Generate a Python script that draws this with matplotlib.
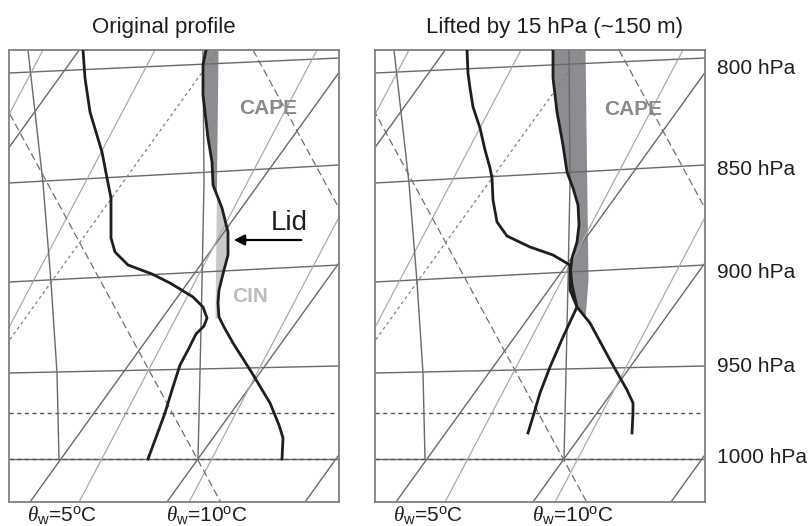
import numpy as np
import matplotlib.pyplot as plt

plt.rcParams['font.family'] = ['Liberation Sans', 'DejaVu Sans']
plt.rcParams['mathtext.fontset'] = 'custom'
plt.rcParams['mathtext.rm'] = 'Liberation Sans'
plt.rcParams['mathtext.it'] = 'Liberation Serif:italic'

# diagram units: x across the box, y downwards from its top edge
PANEL_W, PANEL_H = 330, 452

# isobars (height at the left and right edge of the box)
isobar_hpa = [800, 850, 900, 950, 1000]
isobar_y_left = [23, 133, 232, 323, 409]
isobar_y_right = [8, 115, 215, 316, 409]
isobar_label_y = [24, 125, 228, 322, 413]
level_dotted_y = [363, 409]

# dry adiabats: x where each meets the bottom edge
dry_slope = 1.39
dry_x_bottom = [-255, 21, 158, 296]
dry_dotted_x_bottom = [-116]
# steeper thin lines: x where each meets the top edge
thin_slope = 1.9
thin_x_top = [34, 146, 308, 418]
# saturated adiabats (dashed, falling to the right): x at the top edge
sat_slope = 1.84
sat_x_top = [-34, 244]
# theta-w curves, ending on the 1000 hPa isobar
thw_y = [0, 133, 232, 323, 409]
thw5_x = [19, 34, 42, 48, 50]
thw10_x = [194, 195, 193, 191, 189]
thw_labels = [r'$\theta_{\mathrm{w}}$=5$^{\mathrm{o}}$C', r'$\theta_{\mathrm{w}}$=10$^{\mathrm{o}}$C']
thw_label_x = [53, 198]

# original sounding
dew0_x = [74, 76, 81, 93, 98, 102, 102, 106, 119, 143, 161, 184, 194, 198, 195, 187, 179, 171, 163, 156, 139]
dew0_y = [0, 28, 62, 102, 128, 148, 188, 202, 215, 224, 233, 247, 257, 268, 276, 284, 300, 315, 340, 363, 409]
temp0_x = [197, 194, 194, 199, 203, 204, 213, 219, 219, 215, 210, 209, 210, 215, 224, 243, 261, 270, 274, 273]
temp0_y = [0, 15, 45, 88, 112, 135, 158, 182, 205, 220, 240, 253, 267, 277, 293, 323, 353, 375, 388, 409]
parcel0_x = [209, 206]
parcel0_y = [0, 268]

# sounding after lifting by 15 hPa
dew1_x = [92, 93, 95, 98, 105, 110, 115, 117, 118, 122, 132, 155, 178, 195, 197, 202, 188, 175, 165, 160, 153]
dew1_y = [0, 23, 38, 57, 78, 100, 118, 128, 150, 172, 186, 197, 205, 215, 235, 257, 287, 317, 343, 360, 383]
temp1_x = [178, 178, 182, 188, 192, 198, 203, 204, 202, 197, 195, 195, 202, 215, 235, 252, 258, 258, 257]
temp1_y = [0, 28, 62, 95, 122, 138, 155, 175, 192, 208, 225, 240, 257, 273, 310, 340, 353, 363, 383]
parcel1_x = [210, 213, 210]
parcel1_y = [0, 230, 268]

cape_color = '#8c8c91'
cin_color = '#c9c9cd'
grid_dark = '#6a6a6a'
grid_light = '#ababab'
ink = '#1e1e1e'


def draw_background(ax):
    for yl, yr in zip(isobar_y_left, isobar_y_right):
        ax.plot([0, PANEL_W], [yl, yr], color=grid_dark, lw=1.0, zorder=2)
    for y in level_dotted_y:
        ax.plot([0, PANEL_W], [y, y], color='#555555', lw=1.0, ls=(0, (3, 2.5)), zorder=2)
    for x0 in dry_x_bottom:
        ax.plot([x0, x0 + PANEL_H / dry_slope], [PANEL_H, 0], color=grid_dark, lw=1.0, zorder=2)
    for x0 in dry_dotted_x_bottom:
        ax.plot([x0, x0 + PANEL_H / dry_slope], [PANEL_H, 0], color='#808080', lw=0.9,
                ls=(0, (2.5, 2.5)), zorder=2)
    for xt in thin_x_top:
        ax.plot([xt, xt - PANEL_H / thin_slope], [0, PANEL_H], color=grid_light, lw=0.9, zorder=2)
    for xt in sat_x_top:
        ax.plot([xt, xt + PANEL_H / sat_slope], [0, PANEL_H], color='#707070', lw=0.9,
                ls=(0, (6, 3)), zorder=2)
    for xs in (thw5_x, thw10_x):
        ax.plot(xs, thw_y, color=grid_dark, lw=1.0, zorder=2)
    for label, x in zip(thw_labels, thw_label_x):
        ax.text(x, 471, label, ha='center', va='baseline', fontsize=15, color=ink, clip_on=False)


def shade(ax, env_x, env_y, par_x, par_y, y_end, with_cin=True):
    yy = np.linspace(0, y_end, 400)
    te = np.interp(yy, env_y, env_x)
    tp = np.interp(yy, par_y, par_x)
    ax.fill_betweenx(yy, te, tp, where=te <= tp, interpolate=True,
                     color=cape_color, lw=0, zorder=1)
    if with_cin:
        ax.fill_betweenx(yy, te, tp, where=te > tp, interpolate=True,
                         color=cin_color, lw=0, zorder=1)


def setup(ax):
    ax.set_xlim(0, PANEL_W)
    ax.set_ylim(PANEL_H, 0)
    ax.set_xticks([])
    ax.set_yticks([])
    for s in ax.spines.values():
        s.set_color('#808080')
        s.set_linewidth(1.3)


fig = plt.figure(figsize=(8.08, 5.26), dpi=100)
ax1 = fig.add_axes([9 / 808, 24 / 526, PANEL_W / 808, PANEL_H / 526])
ax2 = fig.add_axes([375 / 808, 24 / 526, PANEL_W / 808, PANEL_H / 526])

for ax in (ax1, ax2):
    setup(ax)
    draw_background(ax)

# original profile
shade(ax1, temp0_x, temp0_y, parcel0_x, parcel0_y, 268)
ax1.plot(dew0_x, dew0_y, color=ink, lw=2.0, zorder=4)
ax1.plot(temp0_x, temp0_y, color=ink, lw=2.0, zorder=4)
ax1.text(155, -17, 'Original profile', ha='center', va='baseline', fontsize=16, color=ink,
         clip_on=False)
ax1.text(259, 64, 'CAPE', ha='center', va='baseline', fontsize=15, fontweight='bold',
         color='#8a8a8a', zorder=5)
ax1.text(241, 252, 'CIN', ha='center', va='baseline', fontsize=15, fontweight='bold',
         color='#bdbdbd', zorder=5)
ax1.text(280, 180, 'Lid', ha='center', va='baseline', fontsize=20, color=ink, zorder=5)
ax1.annotate('', xy=(222, 190), xytext=(295, 190),
             arrowprops=dict(arrowstyle='-|>', color='black', lw=1.6, mutation_scale=16),
             zorder=5)

# lifted profile
shade(ax2, temp1_x, temp1_y, parcel1_x, parcel1_y, 268, with_cin=False)
ax2.plot(dew1_x, dew1_y, color=ink, lw=2.0, zorder=4)
ax2.plot(temp1_x, temp1_y, color=ink, lw=2.0, zorder=4)
ax2.text(180, -17, 'Lifted by 15 hPa (~150 m)', ha='center', va='baseline', fontsize=16,
         color=ink, clip_on=False)
ax2.text(258, 65, 'CAPE', ha='center', va='baseline', fontsize=15, fontweight='bold',
         color='#8a8a8a', zorder=5)

for p, y in zip(isobar_hpa, isobar_label_y):
    ax2.text(342, y, f'{p} hPa', ha='left', va='baseline', fontsize=15, color=ink,
             clip_on=False)

fig.savefig('out.png', dpi=100)
